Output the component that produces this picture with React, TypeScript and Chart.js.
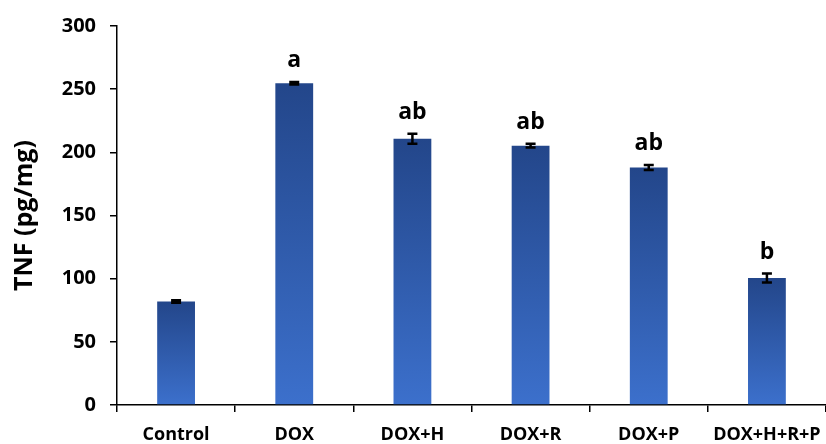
import { useEffect, useRef } from "react";
import { Chart, registerables } from "chart.js";

Chart.register(...registerables);

const categories = ["Control", "DOX", "DOX+H", "DOX+R", "DOX+P", "DOX+H+R+P"];
const means = [82, 254.6, 210.7, 205.3, 188, 100.5];
const errors = [1, 1, 4, 1.5, 2, 3.5];
const letters = ["", "a", "ab", "ab", "ab", "b"];
const yMin = 0;
const yMax = 300;
const yStep = 50;

const FONT = "'Open Sans', 'DejaVu Sans', sans-serif";

const errorBarPlugin = {
  id: "errorBars",
  afterDatasetsDraw(chart: any) {
    const ctx = chart.ctx;
    const meta = chart.getDatasetMeta(0);
    const y = chart.scales.y;
    ctx.save();
    meta.data.forEach((el: any, i: number) => {
      const x = el.x;
      const top = y.getPixelForValue(means[i] + errors[i]);
      const bot = y.getPixelForValue(means[i] - errors[i]);
      ctx.strokeStyle = "#000";
      ctx.lineWidth = 2.5;
      ctx.beginPath();
      ctx.moveTo(x, top);
      ctx.lineTo(x, bot);
      ctx.moveTo(x - 5, top);
      ctx.lineTo(x + 5, top);
      ctx.moveTo(x - 5, bot);
      ctx.lineTo(x + 5, bot);
      ctx.stroke();
      if (letters[i]) {
        ctx.fillStyle = "#000";
        ctx.font = `bold 23px ${FONT}`;
        ctx.textAlign = "center";
        ctx.textBaseline = "bottom";
        ctx.fillText(letters[i], x, top - 10);
      }
    });
    ctx.restore();
  },
};

export default function App() {
  const canvasRef = useRef<HTMLCanvasElement | null>(null);

  useEffect(() => {
    document.body.style.margin = "0";
    const canvas = canvasRef.current;
    if (!canvas) return;
    const chart = new Chart(canvas, {
      type: "bar",
      data: {
        labels: categories,
        datasets: [
          {
            data: means,
            backgroundColor: (c: any) => {
              const ch = c.chart;
              if (!ch.chartArea || c.type !== "data") return "#2f5aa8";
              const ys = ch.scales.y;
              const top = ys.getPixelForValue(means[c.dataIndex]);
              const bottom = ys.getPixelForValue(0);
              const g = ch.ctx.createLinearGradient(0, top, 0, bottom);
              g.addColorStop(0, "#23468a");
              g.addColorStop(1, "#3c70cc");
              return g;
            },
            borderWidth: 0,
            categoryPercentage: 1,
            barPercentage: 0.32,
          },
        ],
      },
      plugins: [errorBarPlugin],
      options: {
        animation: false,
        responsive: true,
        maintainAspectRatio: false,
        layout: { padding: { top: 24, right: -10, left: 0, bottom: 0 } },
        plugins: {
          legend: { display: false },
          tooltip: { enabled: false },
        },
        scales: {
          x: {
            offset: true,
            grid: {
              display: true,
              drawOnChartArea: false,
              drawTicks: true,
              tickLength: 7,
              color: "#000",
              lineWidth: 1.5,
            },
            border: { display: true, color: "#000", width: 1.5 },
            ticks: {
              color: "#000",
              font: { family: FONT, size: 18, weight: "bold" },
              padding: 12,
              maxRotation: 0,
              autoSkip: false,
            },
            afterFit: (s: any) => {
              s.height = 39;
              s.paddingRight = 0;
              s.paddingLeft = 0;
            },
          },
          y: {
            min: yMin,
            max: yMax,
            grid: {
              display: true,
              drawOnChartArea: false,
              drawTicks: true,
              tickLength: 7,
              color: "#000",
              lineWidth: 1.5,
            },
            border: { display: true, color: "#000", width: 1.5 },
            ticks: {
              stepSize: yStep,
              color: "#000",
              font: { family: FONT, size: 20, weight: "bold" },
              padding: 14,
            },
            title: {
              display: true,
              text: "TNF (pg/mg)",
              color: "#000",
              font: { family: FONT, size: 25, weight: "bold" },
              padding: { top: 10, bottom: 10 },
            },
            afterFit: (s: any) => {
              s.width = 117;
            },
          },
        },
      },
    });
    return () => chart.destroy();
  }, []);

  return (
    <div style={{ width: 826, height: 444, position: "relative" }}>
      <canvas ref={canvasRef} />
    </div>
  );
}
